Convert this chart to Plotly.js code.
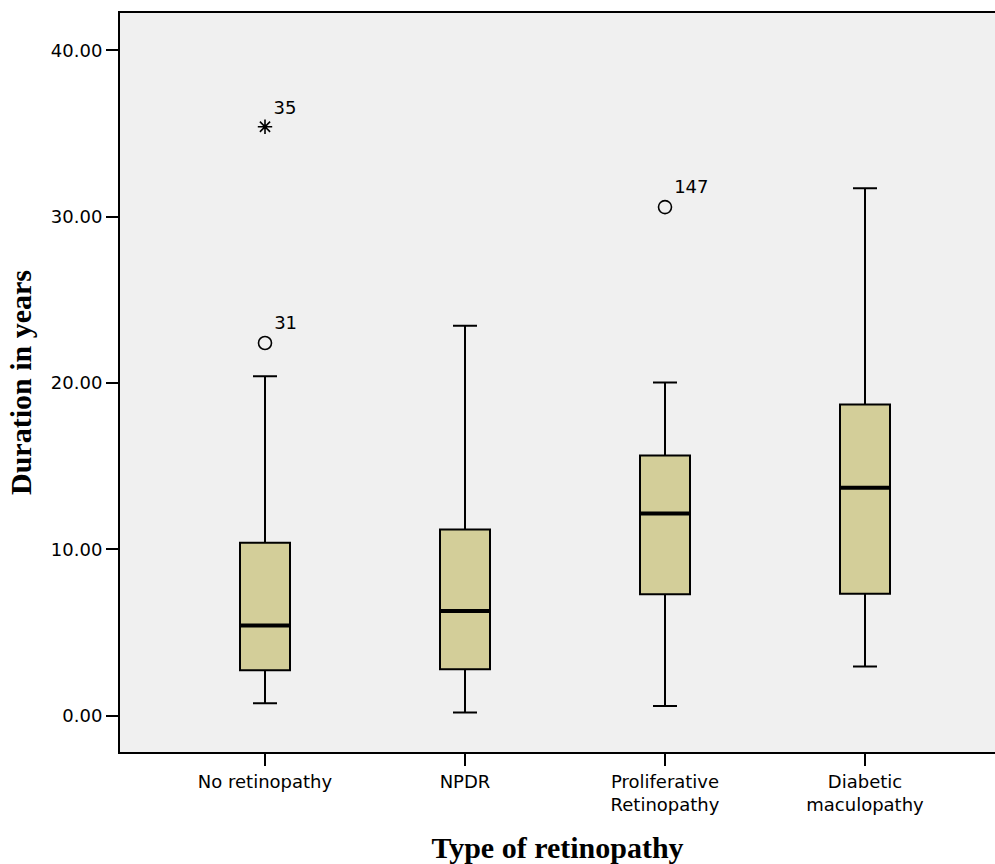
<!DOCTYPE html>
<html>
<head>
<meta charset="utf-8">
<script src="https://cdn.plot.ly/plotly-3.0.1.min.js"></script>
<style>html,body{margin:0;padding:0;background:#fff;}#chart{width:995px;height:864px;}</style>
</head>
<body>
<div id="chart"></div>
<script>
// Categories and box statistics (years)
const categories = ["No retinopathy", "NPDR", "Proliferative<br>Retinopathy", "Diabetic<br>maculopathy"];
const lowerWhisker = [0.74, 0.18, 0.58, 2.95];
const q1Values = [2.72, 2.78, 7.29, 7.33];
const medianValues = [5.42, 6.28, 12.15, 13.70];
const q3Values = [10.39, 11.19, 15.63, 18.70];
const upperWhisker = [20.40, 23.44, 20.02, 31.71];

// Outliers: circles (mild) and stars (extreme)
const circleGroup = [0, 2];
const circleValues = [22.40, 30.57];
const circleLabels = ["31", "147"];
const starGroup = [0];
const starValues = [35.40];
const starLabels = ["35"];

const catIdx = categories.map((_, i) => i);
const halfBox = 0.125;

const medX = [], medY = [];
catIdx.forEach(i => { medX.push(i - halfBox, i + halfBox, null); medY.push(medianValues[i], medianValues[i], null); });

const traces = [
  {
    type: 'box',
    x: catIdx,
    q1: q1Values,
    median: medianValues,
    q3: q3Values,
    lowerfence: lowerWhisker,
    upperfence: upperWhisker,
    boxpoints: false,
    width: 0.25,
    whiskerwidth: 0.48,
    fillcolor: '#d3ce99',
    line: {color: '#000000', width: 2},
    hoverinfo: 'skip',
    showlegend: false
  },
  {
    type: 'scatter', mode: 'lines', x: medX, y: medY,
    line: {color: '#000000', width: 4}, hoverinfo: 'skip', showlegend: false
  },
  {
    type: 'scatter', mode: 'markers+text', x: circleGroup, y: circleValues, text: circleLabels,
    textposition: 'top right', textfont: {family: 'DejaVu Sans', size: 18, color: '#000'},
    marker: {symbol: 'circle-open', size: 13, color: '#000', line: {width: 1.6, color: '#000'}},
    showlegend: false
  },
  {
    type: 'scatter', mode: 'markers+text', x: starGroup, y: starValues, text: starLabels,
    textposition: 'top right', textfont: {family: 'DejaVu Sans', size: 18, color: '#000'},
    marker: {symbol: 'asterisk-open', size: 12, color: '#000', line: {width: 1.6, color: '#000'}},
    showlegend: false
  }
];

const layout = {
  width: 995, height: 864,
  margin: {l: 120, r: 0, t: 13, b: 112},
  paper_bgcolor: '#ffffff',
  plot_bgcolor: '#f0f0f0',
  showlegend: false,
  font: {family: 'DejaVu Sans', size: 18, color: '#000'},
  xaxis: {
    range: [-0.725, 3.65],
    tickmode: 'array', tickvals: catIdx, ticktext: categories,
    ticks: 'outside', ticklen: 12, tickwidth: 2, tickcolor: '#000',
    showline: true, linecolor: '#000', linewidth: 2, mirror: true,
    showgrid: false, zeroline: false,
    tickfont: {family: 'DejaVu Sans', size: 18, color: '#000'},
    title: {text: 'Type of retinopathy', font: {family: 'Liberation Serif', size: 30, color: '#000', weight: 'bold'}, standoff: 28},
    automargin: false
  },
  yaxis: {
    range: [-2.19, 42.24],
    tickvals: [0, 10, 20, 30, 40], tickformat: '.2f',
    ticks: 'outside', ticklen: 12, tickwidth: 2, tickcolor: '#000',
    showline: true, linecolor: '#000', linewidth: 2, mirror: false,
    showgrid: false, zeroline: false,
    tickfont: {family: 'DejaVu Sans', size: 18, color: '#000'},
    title: {text: 'Duration in years', font: {family: 'Liberation Serif', size: 30, color: '#000', weight: 'bold'}, standoff: 10},
    automargin: false
  }
};

Plotly.newPlot('chart', traces, layout, {displayModeBar: false, staticPlot: true});
</script>
</body>
</html>
